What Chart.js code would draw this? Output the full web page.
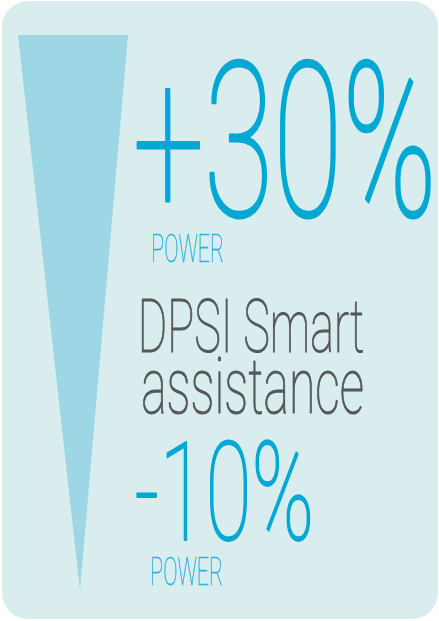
<!DOCTYPE html>
<html>
<head>
<meta charset="utf-8">
<script src="https://cdn.jsdelivr.net/npm/chart.js@4/dist/chart.umd.min.js"></script>
<style>
  html, body { margin: 0; padding: 0; background: #ffffff; }
  #wrap { width: 439px; height: 621px; }
</style>
</head>
<body>
<div id="wrap"><canvas id="powerChart" width="439" height="621"></canvas></div>
<script>
// power change at the top and bottom of the wedge
const power = [30, -10];
const leftEdge = [0, 62];
const rightEdge = [110, 62];
const bigLabels = ['+30%', '-10%'];
const subLabels = ['POWER', 'POWER'];
const titleLines = ['DPSI Smart', 'assistance'];

const wedge = [
    { x: leftEdge[0], y: power[0] },
    { x: rightEdge[0], y: power[0] },
    { x: rightEdge[1], y: power[1] },
    { x: leftEdge[1], y: power[1] },
    { x: leftEdge[0], y: power[0] }
];

// where each text sits: ink box left/right, baseline, cap height
const textLayout = [
    { text: bigLabels[0], left: 137, right: 430, base: 216, cap: 153, color: '#00a8d4' },
    { text: subLabels[0], left: 153, right: 223, base: 262, cap: 27, color: '#2db4dd' },
    { text: titleLines[0], left: 142, right: 363, base: 352, cap: 52, color: '#555759' },
    { text: titleLines[1], left: 143, right: 362, base: 413, cap: 55, color: '#555759' },
    { text: bigLabels[1], left: 137, right: 310, base: 540, cap: 97, color: '#00a8d4' },
    { text: subLabels[1], left: 152, right: 222, base: 585, cap: 27, color: '#2db4dd' }
];

function drawFitted(ctx, t) {
    ctx.save();
    ctx.font = '100 100px Roboto';
    const capH = ctx.measureText('H').actualBoundingBoxAscent;
    const size = 100 * t.cap / capH;
    ctx.font = '100 ' + size + 'px Roboto';
    const m = ctx.measureText(t.text);
    const inkW = m.actualBoundingBoxLeft + m.actualBoundingBoxRight;
    ctx.translate(t.left, t.base);
    ctx.scale((t.right - t.left) / inkW, 1);
    ctx.fillStyle = t.color;
    ctx.strokeStyle = t.color;
    ctx.lineWidth = t.cap * 0.02;
    ctx.lineJoin = 'round';
    ctx.textBaseline = 'alphabetic';
    ctx.textAlign = 'left';
    ctx.fillText(t.text, m.actualBoundingBoxLeft, 0);
    ctx.strokeText(t.text, m.actualBoundingBoxLeft, 0);
    ctx.restore();
}

const panelPlugin = {
    id: 'panel',
    beforeDraw(chart) {
        const ctx = chart.ctx;
        ctx.save();
        ctx.fillStyle = '#d9edef';
        ctx.beginPath();
        ctx.roundRect(2, 1, 436, 618, 26);
        ctx.fill();
        ctx.restore();
    },
    afterDraw(chart) {
        textLayout.forEach((t) => drawFitted(chart.ctx, t));
    }
};

const ctx = document.getElementById('powerChart').getContext('2d');
const powerChart = new Chart(ctx, {
    type: 'scatter',
    data: {
        datasets: [{
            data: wedge,
            showLine: true,
            fill: 'shape',
            backgroundColor: '#9dd6e5',
            borderWidth: 0,
            pointRadius: 0,
            tension: 0
        }]
    },
    options: {
        responsive: false,
        animation: false,
        layout: { padding: { left: 18, right: 311, top: 35, bottom: 31 } },
        plugins: { legend: { display: false }, tooltip: { enabled: false } },
        scales: {
            x: { display: false, min: 0, max: 110 },
            y: { display: false, min: -10, max: 30 }
        }
    },
    plugins: [panelPlugin]
});
</script>
</body>
</html>
